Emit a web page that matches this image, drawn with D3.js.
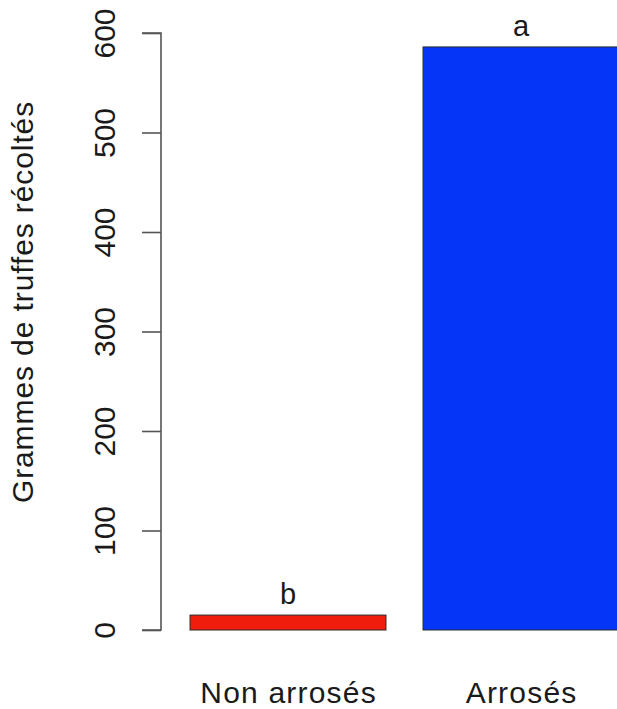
<!DOCTYPE html>
<html>
<head>
<meta charset="utf-8">
<script src="https://cdn.jsdelivr.net/npm/d3@7"></script>
<style>
  html, body { margin: 0; padding: 0; background: #fff; }
  svg { display: block; }
  text { font-family: "Liberation Sans", Arial, Helvetica, sans-serif; fill: #1a1a1a; }
</style>
</head>
<body>
<svg id="chart" width="617" height="709"></svg>
<script>
// Truffle harvest by watering treatment
const categories = ["Non arrosés", "Arrosés"];
const values = [15, 586];
const groupLetters = ["b", "a"];
const barColors = ["#f01c0c", "#0535f6"];
const yTicks = [0, 100, 200, 300, 400, 500, 600];
const yTitle = "Grammes de truffes récoltés";

const svg = d3.select("#chart");

const y = d3.scaleLinear().domain([0, 600]).range([630, 33]);

const x = d3.scaleBand()
  .domain(categories)
  .range([171.5, 637.5])
  .paddingInner(0.159)
  .paddingOuter(0.0795);

// bars
svg.append("g").selectAll("rect")
  .data(categories)
  .join("rect")
  .attr("x", d => x(d))
  .attr("width", x.bandwidth())
  .attr("y", (d, i) => y(values[i]))
  .attr("height", (d, i) => y(0) - y(values[i]))
  .attr("fill", (d, i) => barColors[i])
  .attr("stroke", "#2a2a2a")
  .attr("stroke-width", 1);

// significance letters above the bars
svg.append("g").selectAll("text")
  .data(categories)
  .join("text")
  .attr("x", d => x(d) + x.bandwidth() / 2)
  .attr("y", (d, i) => y(values[i]) - 11)
  .attr("text-anchor", "middle")
  .style("font-size", "29px")
  .text((d, i) => groupLetters[i]);

// y axis
const yAxis = d3.axisLeft(y).tickValues(yTicks).tickSize(19).tickPadding(27);
const ax = svg.append("g").attr("transform", "translate(161,0)").call(yAxis);
ax.select(".domain").attr("d", `M-19,${y(0)}H0V${y(600)}H-19`)
  .attr("stroke", "#555").attr("stroke-width", 1.6).attr("fill", "none");
ax.selectAll(".tick line").attr("stroke", "#555").attr("stroke-width", 1.6);
ax.selectAll(".tick text")
  .attr("x", null).attr("dy", null)
  .attr("transform", "translate(-46,0) rotate(-90)")
  .attr("text-anchor", "middle")
  .style("font-size", "30px")
  .style("font-family", "'Liberation Sans', Arial, sans-serif")
  .attr("fill", "#1a1a1a");

// category labels
svg.append("g").selectAll("text")
  .data(categories)
  .join("text")
  .attr("x", d => x(d) + x.bandwidth() / 2 + 0.6)
  .attr("y", 703)
  .attr("text-anchor", "middle")
  .style("font-size", "30px")
  .style("letter-spacing", "1.2px")
  .text(d => d);

// y axis title
svg.append("text")
  .attr("transform", "translate(33,302) rotate(-90)")
  .attr("text-anchor", "middle")
  .style("font-size", "30px")
  .style("letter-spacing", "0.9px")
  .text(yTitle);
</script>
</body>
</html>
